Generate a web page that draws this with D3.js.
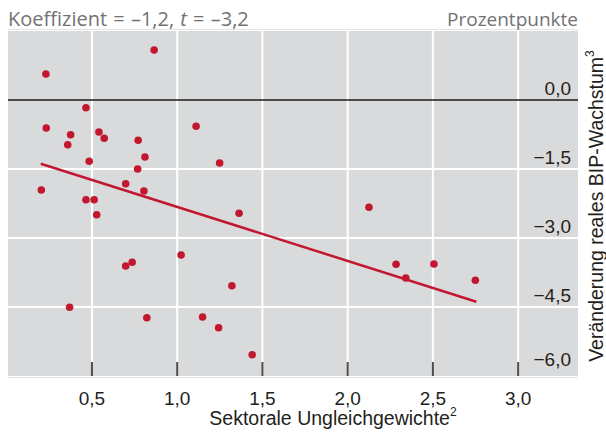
<!DOCTYPE html>
<html lang="de">
  <head>
    <meta charset="utf-8" />
    <title>Sektorale Ungleichgewichte</title>
    <style>
      body { margin: 0; background: #fff; }
      .lbl { font-family: "Liberation Sans", Arial, sans-serif; font-size: 19px; fill: #231f20; }
      .ttl { font-size: 19.5px; }
      .head { font-family: "Open Sans", sans-serif; font-size: 19px; fill: #727272; }
    </style>
  </head>
  <body>
    <div id="vis"></div>
    <script src="https://d3js.org/d3.v7.min.js"></script>
    <script>
      // Sektorale Ungleichgewichte (x) vs. Veränderung reales BIP-Wachstum (y)
      const imbalance = [0.23, 0.865, 0.465, 0.232, 0.375, 0.358, 0.541, 0.572, 0.771, 1.111,
                         0.811, 0.484, 1.249, 0.768, 0.203, 0.698, 0.805, 0.465, 0.513, 0.528,
                         1.363, 1.023, 0.698, 0.736, 1.321, 0.369, 0.822, 1.149, 1.243, 1.44,
                         2.125, 2.284, 2.341, 2.506, 2.749];
      const growth = [0.565, 1.087, -0.167, -0.609, -0.754, -0.972, -0.696, -0.833, -0.876, -0.572,
                      -1.239, -1.333, -1.37, -1.5, -1.957, -1.82, -1.978, -2.167, -2.167, -2.493,
                      -2.463, -3.37, -3.609, -3.528, -4.037, -4.507, -4.733, -4.717, -4.95, -5.537,
                      -2.333, -3.572, -3.87, -3.565, -3.92];
      const fitX = [0.2, 2.755];
      const fitY = [-1.385, -4.385];
      const xTicks = [0.5, 1.0, 1.5, 2.0, 2.5, 3.0];
      const yTicks = [0, -1.5, -3.0, -4.5, -6.0];

      const W = 606, H = 433;
      const pLeft = 8, pRight = 578, pTop = 31, pBottom = 376;
      const red = "#c1182f";

      const x = d3.scaleLinear().domain([0, 3.35]).range([pLeft - 1.3, pRight - 0.2]);
      const y = d3.scaleLinear().domain([-6, 1.5]).range([pBottom, pTop]);
      const fmt = v => d3.format(".1f")(v).replace(".", ",").replace("-", "\u2013");

      const svg = d3.select("#vis").append("svg").attr("width", W).attr("height", H);

      svg.append("line").attr("x1", pLeft).attr("x2", pRight).attr("y1", pTop - 1.5).attr("y2", pTop - 1.5)
        .attr("stroke", "#e4e4e4").attr("stroke-width", 1);
      svg.append("line").attr("x1", pLeft).attr("x2", pRight).attr("y1", pBottom + 1.5).attr("y2", pBottom + 1.5)
        .attr("stroke", "#e4e4e4").attr("stroke-width", 1);
      svg.append("rect").attr("x", pLeft).attr("y", pTop)
        .attr("width", pRight - pLeft).attr("height", pBottom - pTop).attr("fill", "#d9dadc");

      // grid
      svg.append("g").selectAll("line").data(xTicks).join("line")
        .attr("x1", d => x(d)).attr("x2", d => x(d)).attr("y1", pTop).attr("y2", pBottom)
        .attr("stroke", "#fff").attr("stroke-width", 2);
      svg.append("g").selectAll("line").data(yTicks.filter(d => d !== 0 && d !== -6)).join("line")
        .attr("x1", pLeft).attr("x2", pRight).attr("y1", d => y(d)).attr("y2", d => y(d))
        .attr("stroke", "#fff").attr("stroke-width", 2);
      svg.append("line").attr("x1", pLeft).attr("x2", pRight).attr("y1", y(0)).attr("y2", y(0))
        .attr("stroke", "#1a1a1a").attr("stroke-width", 1.5);

      // bottom tick marks
      svg.append("g").selectAll("line").data(xTicks).join("line")
        .attr("x1", d => x(d)).attr("x2", d => x(d)).attr("y1", pBottom - 14).attr("y2", pBottom)
        .attr("stroke", "#4d4d4d").attr("stroke-width", 2);

      // y labels, sitting above their lines
      svg.append("g").selectAll("text").data(yTicks).join("text").attr("class", "lbl")
        .attr("x", 571).attr("y", d => d === -6 ? y(d) - 10 : y(d) - 5)
        .attr("text-anchor", "end").text(fmt);

      // x labels
      svg.append("g").selectAll("text").data(xTicks).join("text").attr("class", "lbl")
        .attr("x", d => x(d)).attr("y", 405).attr("text-anchor", "middle").text(fmt);

      // regression line
      svg.append("line")
        .attr("x1", x(fitX[0])).attr("y1", y(fitY[0]))
        .attr("x2", x(fitX[1])).attr("y2", y(fitY[1]))
        .attr("stroke", red).attr("stroke-width", 2.5);

      svg.append("g").selectAll("circle").data(imbalance).join("circle")
        .attr("cx", d => x(d)).attr("cy", (d, i) => y(growth[i])).attr("r", 3.8).attr("fill", red);

      // titles
      const head = svg.append("text").attr("class", "head").attr("x", pLeft).attr("y", 26)
        .style("font-size", "20px").attr("word-spacing", 1);
      head.append("tspan").text("Koeffizient = \u20131,2, ");
      head.append("tspan").attr("font-style", "italic").text("t");
      head.append("tspan").text(" = \u20133,2");
      svg.append("text").attr("class", "head").attr("x", pRight).attr("y", 26)
        .attr("text-anchor", "end").text("Prozentpunkte");

      const xt = svg.append("text").attr("class", "lbl ttl").attr("x", 333).attr("y", 425).attr("text-anchor", "middle");
      xt.append("tspan").text("Sektorale Ungleichgewichte");
      xt.append("tspan").attr("font-size", 12).attr("dy", -9).text("2");

      const yt = svg.append("text").attr("class", "lbl ttl").attr("text-anchor", "middle")
        .attr("transform", "translate(603,206) rotate(-90)");
      yt.append("tspan").text("Veränderung reales BIP-Wachstum");
      yt.append("tspan").attr("font-size", 12).attr("dy", -9).text("3");
    </script>
  </body>
</html>
